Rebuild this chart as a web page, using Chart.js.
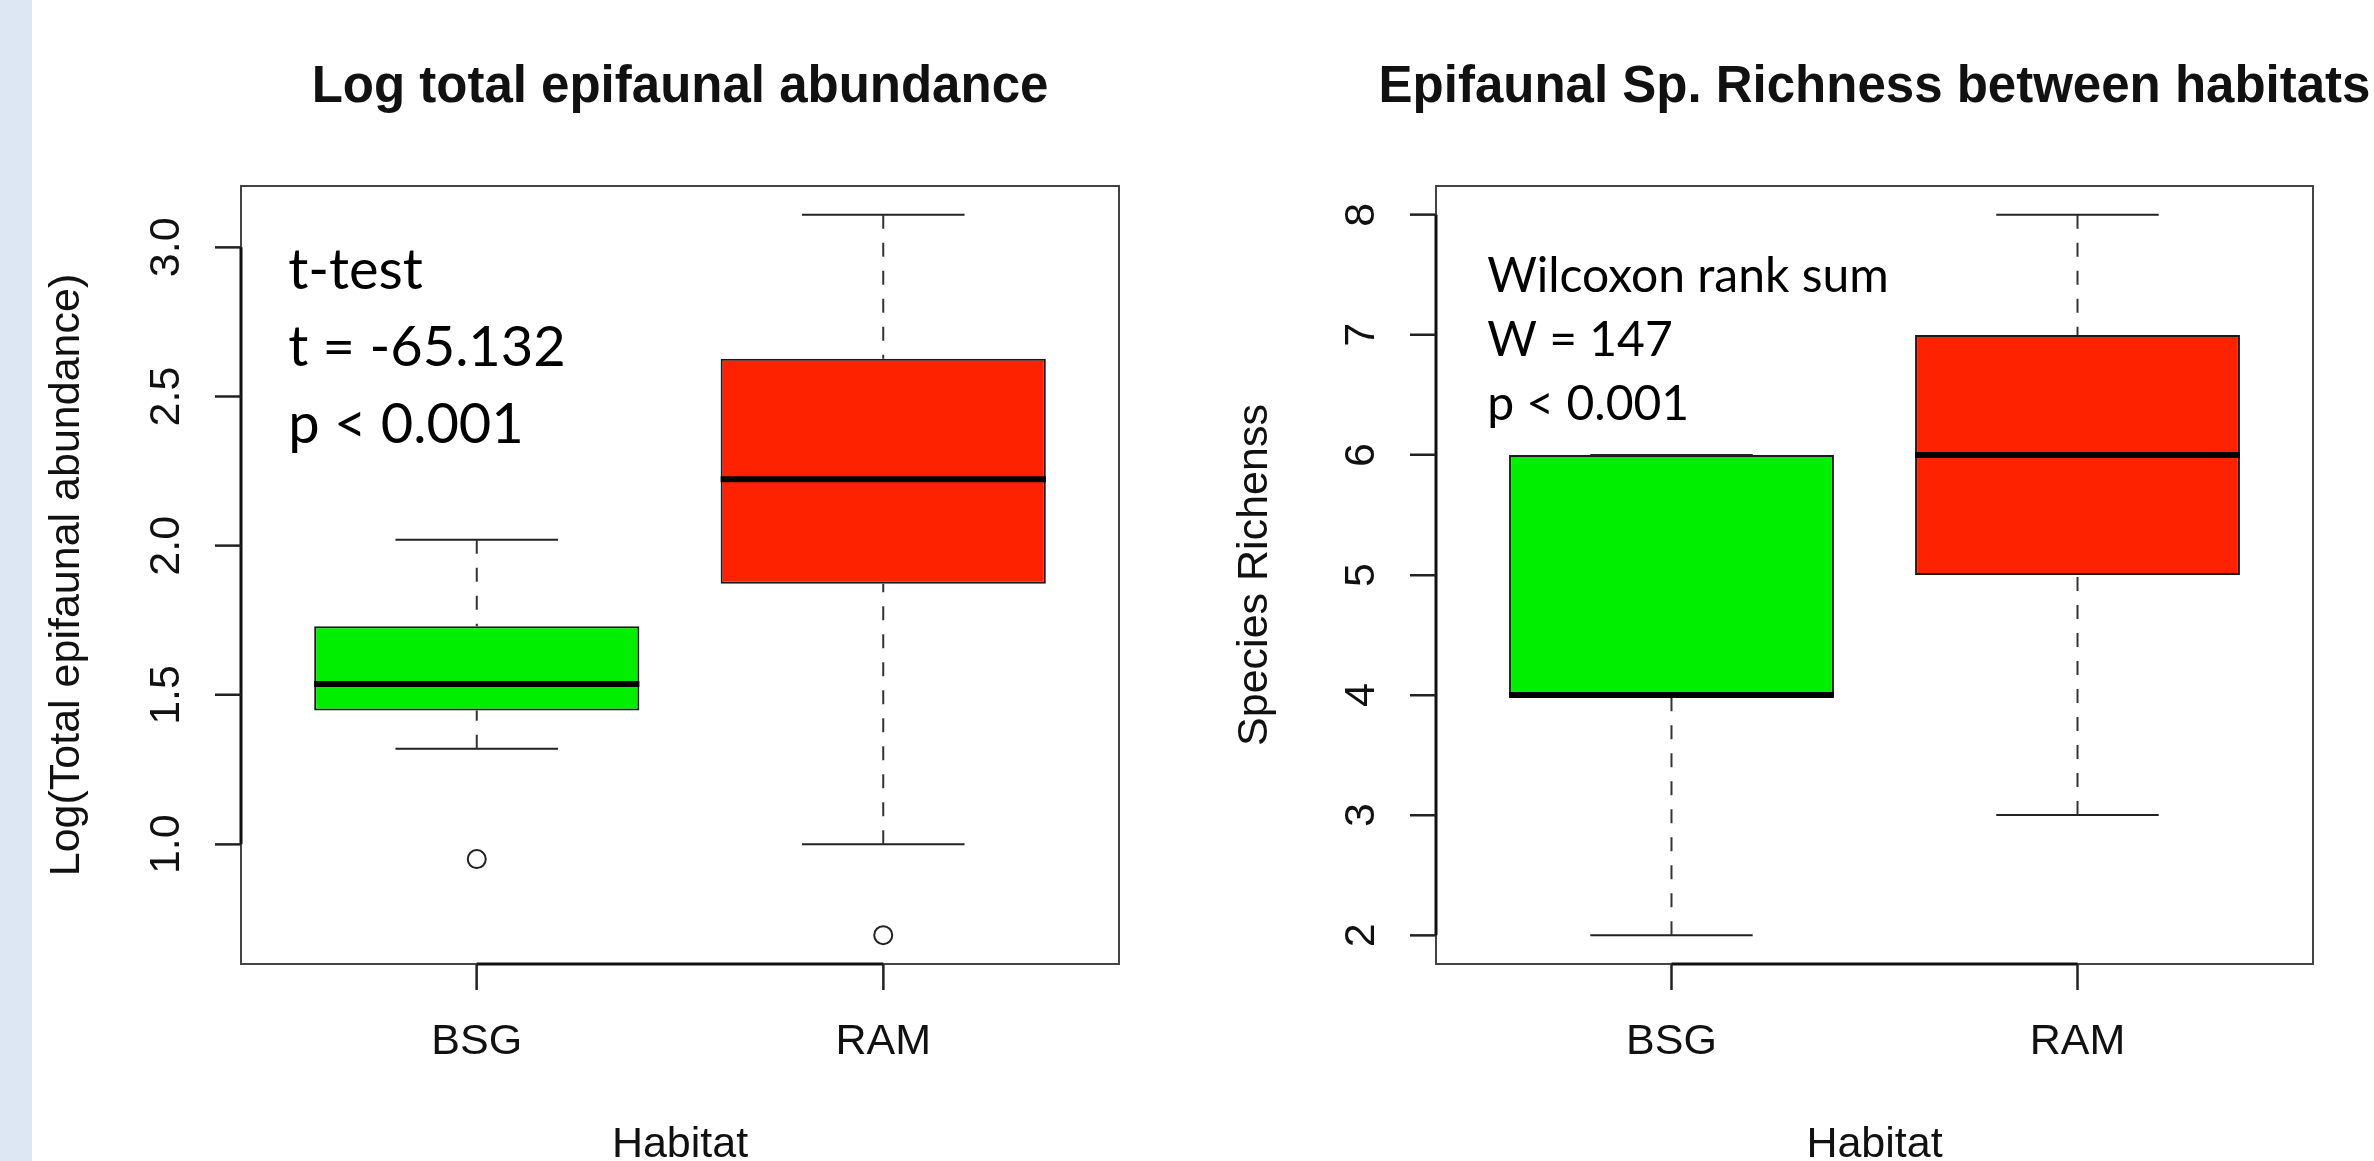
<!DOCTYPE html>
<html>
<head>
<meta charset="utf-8">
<script src="https://cdn.jsdelivr.net/npm/chart.js@4.4.1/dist/chart.umd.min.js"></script>
<style>
  html, body { margin: 0; padding: 0; background: #fff; width: 2374px; height: 1161px; overflow: hidden; }
  #strip { position: absolute; left: 0; top: 0; width: 32px; height: 1161px; background: #dde7f3; }
  canvas { position: absolute; top: 0; }
  #abundChart { left: 32px; }
  #richChart { left: 1182px; }
</style>
</head>
<body>
<div id="strip"></div>
<canvas id="abundChart" width="1296" height="1190"></canvas>
<canvas id="richChart" width="1385" height="1190"></canvas>
<script>
// Habitats on the x axis
var habitats = ['BSG', 'RAM'];

// Log total epifaunal abundance - box stats
var abundLow = [1.32, 1.00];
var abundQ1 = [1.448, 1.873];
var abundMedian = [1.537, 2.223];
var abundQ3 = [1.730, 2.627];
var abundHigh = [2.02, 3.109];
var abundOutliers = [[0.95], [0.695]];
var abundTicks = [1.0, 1.5, 2.0, 2.5, 3.0];

// Species richness
var richLow = [2, 3];
var richQ1 = [4, 5];
var richMedian = [4, 6];
var richQ3 = [6, 7];
var richHigh = [6, 8];
var richOutliers = [[], []];
var richTicks = [2, 3, 4, 5, 6, 7, 8];

// Test results written inside the plots
var abundNote = ['t-test', 't = -65.132', 'p < 0.001'];
var richNote = ['Wilcoxon rank sum', 'W = 147', 'p < 0.001'];

var boxColors = ['#00ee00', '#ff2200'];
var ink = '#111';
var rFont = 'Liberation Sans';
var TICK_LEN = 26;

// R pads the data range by 4% on each side
function rRange(lo, hi) {
    var d = (hi - lo) * 0.04;
    return [lo - d, hi + d];
}

// two point line used for whiskers, staples and medians
function seg(a, b, extra) {
    return Object.assign({
        type: 'line',
        data: [{ x: a[0], y: a[1] }, { x: b[0], y: b[1] }],
        borderColor: '#222',
        borderWidth: 2,
        pointRadius: 0,
        fill: false,
        tension: 0,
        order: 2
    }, extra || {});
}

function boxDatasets(low, q1, med, q3, high, outliers) {
    var ds = [];
    // the boxes themselves are floating bars from Q1 to Q3
    ds.push({
        type: 'bar',
        data: habitats.map(function (h, i) { return { x: i + 1, y: [q1[i], q3[i]] }; }),
        backgroundColor: boxColors,
        borderColor: '#1a1a1a',
        borderWidth: 2,
        borderSkipped: false,
        barPercentage: 0.8,
        categoryPercentage: 1,
        order: 3
    });
    habitats.forEach(function (h, i) {
        var x = i + 1;
        // dashed whiskers
        ds.push(seg([x, high[i]], [x, q3[i]], { borderDash: [14, 14], borderColor: '#333' }));
        ds.push(seg([x, low[i]], [x, q1[i]], { borderDash: [14, 14], borderColor: '#333' }));
        // staples, half the box width
        ds.push(seg([x - 0.2, high[i]], [x + 0.2, high[i]]));
        ds.push(seg([x - 0.2, low[i]], [x + 0.2, low[i]]));
        // median
        ds.push(seg([x - 0.4, med[i]], [x + 0.4, med[i]], { borderWidth: 6, borderColor: '#000', order: 1 }));
    });
    var pts = [];
    outliers.forEach(function (list, i) {
        list.forEach(function (v) { pts.push({ x: i + 1, y: v }); });
    });
    if (pts.length) {
        ds.push({
            type: 'line',
            data: pts,
            showLine: false,
            pointRadius: 9,
            pointBorderWidth: 2,
            pointBorderColor: '#222',
            pointBackgroundColor: 'rgba(0,0,0,0)',
            order: 0
        });
    }
    return ds;
}

// box around the plot region + axis lines and tick marks, like R's box() and axis()
var framePlugin = {
    id: 'rFrame',
    afterDatasetsDraw: function (chart) {
        var a = chart.chartArea, ctx = chart.ctx;
        var xs = chart.scales.x, ys = chart.scales.y;
        ctx.save();
        ctx.strokeStyle = '#444';
        ctx.lineWidth = 2;
        ctx.strokeRect(a.left, a.top, a.right - a.left, a.bottom - a.top);
        ctx.strokeStyle = '#111';
        ctx.lineWidth = 3;
        ctx.beginPath();
        ctx.moveTo(xs.getPixelForValue(xs.ticks[0].value), a.bottom);
        ctx.lineTo(xs.getPixelForValue(xs.ticks[xs.ticks.length - 1].value), a.bottom);
        ctx.moveTo(a.left, ys.getPixelForValue(ys.ticks[0].value));
        ctx.lineTo(a.left, ys.getPixelForValue(ys.ticks[ys.ticks.length - 1].value));
        ctx.stroke();
        ctx.strokeStyle = '#222';
        ctx.lineWidth = 2;
        ctx.beginPath();
        xs.ticks.forEach(function (t) {
            var px = xs.getPixelForValue(t.value);
            ctx.moveTo(px, a.bottom);
            ctx.lineTo(px, a.bottom + TICK_LEN);
        });
        ys.ticks.forEach(function (t) {
            var py = ys.getPixelForValue(t.value);
            ctx.moveTo(a.left, py);
            ctx.lineTo(a.left - TICK_LEN, py);
        });
        ctx.stroke();
        ctx.restore();
    }
};

// test statistics text, anchored in data units
var notePlugin = {
    id: 'statNote',
    afterDraw: function (chart, args, opts) {
        if (!opts.lines) return;
        var ctx = chart.ctx;
        var x = chart.scales.x.getPixelForValue(opts.x);
        var y = chart.scales.y.getPixelForValue(opts.y);
        ctx.save();
        ctx.font = opts.size + 'px Lato';
        ctx.fillStyle = '#000';
        ctx.textBaseline = 'alphabetic';
        opts.lines.forEach(function (line, i) {
            ctx.fillText(line, x, y + i * opts.gap);
        });
        ctx.restore();
    }
};

function makeBoxChart(id, c) {
    var yr = rRange(c.lo, c.hi);
    var xr = rRange(0.5, habitats.length + 0.5);
    var axisFont = { family: rFont, size: 43, lineHeight: 1 };
    return new Chart(document.getElementById(id), {
        type: 'bar',
        data: { datasets: c.datasets },
        options: {
            responsive: false,
            animation: false,
            layout: { padding: 0 },
            plugins: {
                legend: { display: false },
                tooltip: { enabled: false },
                title: {
                    display: true,
                    text: c.title,
                    color: ink,
                    font: { family: rFont, size: 51, weight: 'bold', lineHeight: 1 },
                    padding: { top: 62, bottom: 73 }
                },
                statNote: c.note
            },
            scales: {
                x: {
                    type: 'linear',
                    position: 'bottom',
                    min: xr[0],
                    max: xr[1],
                    offset: false,
                    grid: { drawOnChartArea: false, drawTicks: true, tickLength: TICK_LEN, tickWidth: 2, tickColor: '#222', offset: false },
                    border: { display: false },
                    afterBuildTicks: function (s) {
                        s.ticks = habitats.map(function (h, i) { return { value: i + 1 }; });
                    },
                    ticks: {
                        font: axisFont,
                        color: ink,
                        padding: 31,
                        callback: function (v) { return habitats[v - 1]; }
                    },
                    title: { display: true, text: 'Habitat', color: ink, font: axisFont, padding: { top: 0, bottom: 23 } },
                    afterFit: function (s) { s.height = 226; }
                },
                y: {
                    type: 'linear',
                    position: 'left',
                    min: yr[0],
                    max: yr[1],
                    grid: { drawOnChartArea: false, drawTicks: true, tickLength: TICK_LEN, tickWidth: 2, tickColor: '#222' },
                    border: { display: false },
                    afterBuildTicks: function (s) {
                        s.ticks = c.ticks.map(function (v) { return { value: v }; });
                    },
                    ticks: {
                        font: axisFont,
                        color: ink,
                        minRotation: 90,
                        maxRotation: 90,
                        crossAlign: 'center',
                        padding: c.tickPad,
                        callback: c.tickFormat
                    },
                    title: { display: true, text: c.yLabel, color: ink, font: axisFont, padding: { top: c.yTitlePad, bottom: 0 } },
                    afterFit: function (s) { s.width = c.leftW; }
                },
                // empty right axis so the plot region sits in the middle of the canvas
                yPad: {
                    position: 'right',
                    grid: { display: false },
                    ticks: { display: false },
                    border: { display: false },
                    afterFit: function (s) { s.width = c.leftW; }
                }
            }
        },
        plugins: [framePlugin, notePlugin]
    });
}

makeBoxChart('abundChart', {
    title: 'Log total epifaunal abundance',
    yLabel: 'Log(Total epifaunal abundance)',
    datasets: boxDatasets(abundLow, abundQ1, abundMedian, abundQ3, abundHigh, abundOutliers),
    lo: 0.695, hi: 3.109,
    ticks: abundTicks,
    tickFormat: function (v) { return v.toFixed(1); },
    leftW: 209,
    tickPad: 18,
    yTitlePad: 14,
    note: { lines: abundNote, x: 0.536, y: 2.862, gap: 77, size: 56 }
});

makeBoxChart('richChart', {
    title: 'Epifaunal Sp. Richness between habitats',
    yLabel: 'Species Richenss',
    datasets: boxDatasets(richLow, richQ1, richMedian, richQ3, richHigh, richOutliers),
    lo: 2, hi: 8,
    ticks: richTicks,
    tickFormat: function (v) { return String(v); },
    leftW: 254,
    tickPad: 36,
    yTitlePad: 52,
    note: { lines: richNote, x: 0.546, y: 7.354, gap: 64, size: 48 }
});
</script>
</body>
</html>
